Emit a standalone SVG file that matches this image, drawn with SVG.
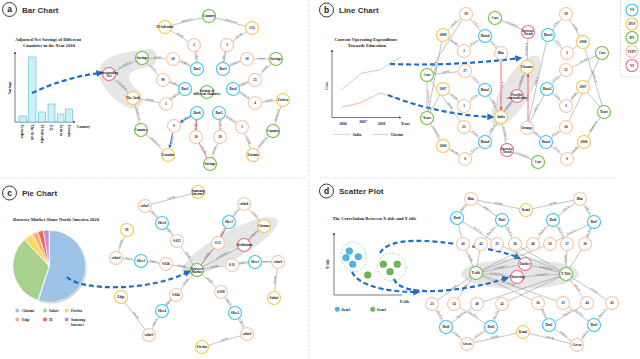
<svg xmlns="http://www.w3.org/2000/svg" width="640" height="359" viewBox="0 0 640 359">
<style>
.n circle{fill:#fff;stroke-width:1.1}
.vs circle{stroke:#3cc4f4}
.dvs circle{stroke:#fbc54f}
.dv circle{stroke:#6fc144}
.vf circle{stroke:#f8c6a6}
.vi circle{stroke:#ef6b94}
.n text{font-family:"Liberation Serif",serif;font-weight:bold;font-size:3.4px;text-anchor:middle;fill:#111}
.e{fill:none;stroke:#9a9a9a;stroke-width:0.6}
.er{fill:none;stroke:#e0505a;stroke-width:0.8}
.eb{fill:none;stroke:#1f6cc0;stroke-width:0.9}
.el{font-family:"Liberation Serif",serif;font-size:2.8px;fill:#333;text-anchor:middle}
.big{fill:none;stroke:#1f6ec2;stroke-width:2.2;stroke-dasharray:5 3}
.blob{fill:#e6e6e6}
.sep{stroke:#bdbdbd;stroke-width:0.8;stroke-dasharray:1 1.5;fill:none}
.pt{font-family:"Liberation Sans",Arial,sans-serif;font-weight:bold;font-size:8px;fill:#333}
.pl{font-family:"Liberation Sans",Arial,sans-serif;font-weight:bold;font-size:8.5px;fill:#222;text-anchor:middle}
.pc{fill:#fff;stroke:#222;stroke-width:0.9}
.ct{font-family:"Liberation Serif",serif;font-weight:bold;font-size:4.6px;text-anchor:middle;fill:#222}
.ax{stroke:#444;stroke-width:0.7;fill:none}
.tk{font-family:"Liberation Serif",serif;font-weight:bold;font-size:3.8px;fill:#222}
.bar{fill:#c9f1f9;stroke:#5fb8cc;stroke-width:0.6}
.lg{font-family:"Liberation Serif",serif;font-weight:bold;font-size:3.6px;fill:#222}
</style>
<defs>
<marker id="mb" viewBox="0 0 6 6" refX="4" refY="3" markerWidth="3.2" markerHeight="3.2" orient="auto-start-reverse"><path d="M0,0 L6,3 L0,6 Z" fill="#1f6ec2"/></marker>
<marker id="ms" viewBox="0 0 6 6" refX="5" refY="3" markerWidth="4" markerHeight="4" orient="auto-start-reverse"><path d="M0,0 L6,3 L0,6 Z" fill="#1f6cc0"/></marker>
<marker id="mr" viewBox="0 0 6 6" refX="5" refY="3" markerWidth="4" markerHeight="4" orient="auto-start-reverse"><path d="M0,0 L6,3 L0,6 Z" fill="#e0505a"/></marker>
<marker id="mx" viewBox="0 0 6 6" refX="5" refY="3" markerWidth="4" markerHeight="4" orient="auto"><path d="M0,0 L6,3 L0,6 Z" fill="#444"/></marker>
</defs>
<rect width="640" height="359" fill="#fff"/>

<g id="separators">
<path class="sep" d="M0,178 H307 M320,178 H617 M309,0 V359 M620.5,0 V77 H640"/>
</g>

<!-- Panel titles -->
<g id="title-a"><circle class="pc" cx="9.5" cy="9.5" r="7"/><text class="pl" x="9.5" y="12.3">a</text><text class="pt" x="22" y="12.5">Bar Chart</text></g>
<g id="title-b"><circle class="pc" cx="326.5" cy="10" r="7"/><text class="pl" x="326.5" y="12.8">b</text><text class="pt" x="339" y="13">Line Chart</text></g>
<g id="title-c"><circle class="pc" cx="9.5" cy="193" r="7"/><text class="pl" x="9.5" y="195.8">c</text><text class="pt" x="22" y="196">Pie Chart</text></g>
<g id="title-d"><circle class="pc" cx="326.5" cy="191" r="7"/><text class="pl" x="326.5" y="193.8">d</text><text class="pt" x="339" y="194">Scatter Plot</text></g>

<!-- Legend -->
<g id="legend">
<g id="lg-vs" class="n vs" transform="translate(632,10)"><circle r="6"/><text y="1.2">VS</text></g>
<g id="lg-dvs" class="n dvs" transform="translate(632,24)"><circle r="6"/><text y="1.2">DVS</text></g>
<g id="lg-dv" class="n dv" transform="translate(632,37.5)"><circle r="6"/><text y="1.2">DV</text></g>
<g id="lg-vfpv" class="n vf" transform="translate(632,51.5)"><circle r="6"/><text y="1.2">VFPV</text></g>
<g id="lg-vi" class="n vi" transform="translate(632,65.5)"><circle r="6"/><text y="1.2">VI</text></g>
</g>

<!-- ============ PANEL A ============ -->
<g id="a-chart">
<text class="ct" x="48" y="40.5">Adjusted Net Savings of Different</text>
<text class="ct" x="49" y="46.5">Countries in the Year 2010</text>
<path class="ax" d="M15,122 V52" marker-end="url(#mx)"/>
<path class="ax" d="M15,122 H75" marker-end="url(#mx)"/>
<text class="tk" transform="translate(10.5,88) rotate(-90)" text-anchor="middle">Savings</text>
<text class="tk" x="76.5" y="128">Country</text>
<rect class="bar" x="19" y="116" width="7.5" height="6"/>
<rect class="bar" x="28.5" y="57" width="7.5" height="65"/>
<rect class="bar" x="38.5" y="112" width="7" height="10"/>
<rect class="bar" x="48" y="104" width="7" height="18"/>
<rect class="bar" x="57.5" y="114" width="6.5" height="8"/>
<rect class="bar" x="65.5" y="109" width="7" height="13"/>
<g class="tk" font-size="3.6">
<text transform="translate(21.2,124.5) rotate(90)">Ecuador</text>
<text transform="translate(31,124.5) rotate(90)">The Arab</text>
<text transform="translate(40.8,124.5) rotate(90)">El Salvador</text>
<text transform="translate(50.2,124.5) rotate(90)">GQ</text>
<text transform="translate(59.5,124.5) rotate(90)">Eritrea</text>
<text transform="translate(68,124.5) rotate(90)">Estonia</text>
</g>
</g>

<path id="a-blob" class="blob" d="M100,71 C99,61 112,55 128,52 L149,49 C159,49 160,63 151,66 L136,70 C126,74 127,82 138,90 C147,98 141,111 130,108 C117,104 102,88 100,78 Z"/>

<g id="a-connectors">
<path class="big" d="M32,93 C55,82 80,75 101,73" marker-end="url(#mb)"/>
<path id="ea1" class="e" d="M109,74 L142,58"/>
<path id="ea2" class="e" d="M109,74 L133,98"/>
<path id="ea3" class="e" d="M142,58 L173,59"/>
<path id="ea4" class="e" d="M142,58 L163,80"/>
<path id="ea5" class="e" d="M133,98 L166,104"/>
<path id="ea6" class="e" d="M133,98 L141,130"/>
<path id="ea7" class="e" d="M141,130 L168,155"/>
<path id="ea8" class="e" d="M173,59 L197,69"/>
<path id="ea9" class="e" d="M194,45 L197,69"/>
<path id="ea10" class="e" d="M165,27 L194,45"/>
<path id="ea11" class="e" d="M165,27 L209,16"/>
<path id="ea12" class="e" d="M209,16 L252,28"/>
<path id="ea13" class="e" d="M227,45 L252,28"/>
<path id="ea14" class="e" d="M223,69 L227,45"/>
<path id="ea15" class="e" d="M223,69 L247,59"/>
<path id="ea16" class="e" d="M247,59 L276,59"/>
<path id="ea17" class="e" d="M255,80 L276,59"/>
<path id="ea18" class="e" d="M233,89 L255,80"/>
<path id="ea19" class="e" d="M233,89 L255,103"/>
<path id="ea20" class="e" d="M255,103 L283,100"/>
<path id="ea21" class="e" d="M273,131 L283,100"/>
<path id="ea22" class="e" d="M253,155 L273,131"/>
<path id="ea23" class="e" d="M242,127 L253,155"/>
<path id="ea24" class="e" d="M219,113 L242,127"/>
<path id="ea25" class="e" d="M219,113 L220,137"/>
<path id="ea26" class="e" d="M210,164 L220,137"/>
<path id="ea27" class="er" d="M196,137 L210,164"/>
<path id="ea28" class="er" d="M196,137 L197,113"/>
<path id="ea29" class="eb" d="M180.5,122.3 L191.3,116.2" marker-start="url(#ms)"/>
<path id="ea30" class="eb" d="M172.7,132.4 L169.5,147.7" marker-end="url(#ms)"/>
<path id="ea31" class="e" d="M163,80 L185,89"/>
<path id="ea32" class="e" d="M166,104 L185,89"/>
<text class="el" dy="-0.5"><textPath href="#ea1" startOffset="50%">is related to</textPath></text>
<text class="el" dy="-0.5"><textPath href="#ea2" startOffset="50%">is related to</textPath></text>
<text class="el" dy="-0.5"><textPath href="#ea3" startOffset="50%">encode</textPath></text>
<text class="el" dy="-0.5"><textPath href="#ea4" startOffset="50%">encode</textPath></text>
<text class="el" dy="-0.5"><textPath href="#ea5" startOffset="50%">encode</textPath></text>
<text class="el" dy="-0.5"><textPath href="#ea6" startOffset="50%">instance of</textPath></text>
<text class="el" dy="-0.5"><textPath href="#ea7" startOffset="50%">instance of</textPath></text>
<text class="el" dy="-0.5"><textPath href="#ea8" startOffset="50%">height is</textPath></text>
<text class="el" dy="-0.5"><textPath href="#ea9" startOffset="50%">P-index is</textPath></text>
<text class="el" dy="-0.5"><textPath href="#ea10" startOffset="50%">encode</textPath></text>
<text class="el" dy="-0.5"><textPath href="#ea11" startOffset="50%">instance of</textPath></text>
<text class="el" dy="-0.5"><textPath href="#ea12" startOffset="50%">instance of</textPath></text>
<text class="el" dy="-0.5"><textPath href="#ea13" startOffset="50%">encode</textPath></text>
<text class="el" dy="-0.5"><textPath href="#ea14" startOffset="50%">P-index is</textPath></text>
<text class="el" dy="-0.5"><textPath href="#ea15" startOffset="50%">height is</textPath></text>
<text class="el" dy="-0.5"><textPath href="#ea16" startOffset="50%">encode</textPath></text>
<text class="el" dy="-0.5"><textPath href="#ea17" startOffset="50%">encode</textPath></text>
<text class="el" dy="-0.5"><textPath href="#ea18" startOffset="50%">height is</textPath></text>
<text class="el" dy="-0.5"><textPath href="#ea19" startOffset="50%">P-index is</textPath></text>
<text class="el" dy="-0.5"><textPath href="#ea20" startOffset="50%">encode</textPath></text>
<text class="el" dy="-0.5"><textPath href="#ea21" startOffset="50%">instance of</textPath></text>
<text class="el" dy="-0.5"><textPath href="#ea22" startOffset="50%">instance of</textPath></text>
<text class="el" dy="-0.5"><textPath href="#ea23" startOffset="50%">encode</textPath></text>
<text class="el" dy="-0.5"><textPath href="#ea24" startOffset="50%">P-index is</textPath></text>
<text class="el" dy="-0.5"><textPath href="#ea25" startOffset="50%">height is</textPath></text>
<text class="el" dy="-0.5"><textPath href="#ea26" startOffset="50%">encode</textPath></text>
<text class="el" dy="-0.5"><textPath href="#ea27" startOffset="50%">encode</textPath></text>
<text class="el" dy="-0.5"><textPath href="#ea28" startOffset="50%">height is</textPath></text>
<text class="el" dy="-0.5"><textPath href="#ea29" startOffset="50%">P-index is</textPath></text>
<text class="el" dy="-0.5"><textPath href="#ea30" startOffset="50%">encode</textPath></text>
<text class="el" dy="-0.5"><textPath href="#ea31" startOffset="50%">height is</textPath></text>
<text class="el" dy="-0.5"><textPath href="#ea32" startOffset="50%">P-index is</textPath></text>
</g>

<g id="a-nodes">
<g id="a-outstanding" class="n vi" transform="translate(109,74)"><circle r="6.5"/><text><tspan x="0" y="-0.4">Outstanding</tspan><tspan x="0" y="3.2">Net</tspan></text></g>
<g id="a-savings1" class="n dv" transform="translate(142,58)"><circle r="6.5"/><text y="1.2">Savings</text></g>
<g id="a-thearab" class="n dvs" transform="translate(133,98)"><circle r="6.5"/><text y="1.2">The Arab</text></g>
<g id="a-country1" class="n dv" transform="translate(141,130)"><circle r="6.5"/><text y="1.2">Country</text></g>
<g id="a-v20" class="n vf" transform="translate(173,59)"><circle r="6.5"/><text y="1.2">20</text></g>
<g id="a-v90" class="n vf" transform="translate(163,80)"><circle r="6.5"/><text y="1.2">90</text></g>
<g id="a-v1" class="n vf" transform="translate(166,104)"><circle r="6.5"/><text y="1.2">1</text></g>
<g id="a-bar2" class="n vs" transform="translate(197,69)"><circle r="6.5"/><text y="1.2">Bar2</text></g>
<g id="a-bar1" class="n vs" transform="translate(185,89)"><circle r="6.5"/><text y="1.2">Bar1</text></g>
<g id="a-v2" class="n vf" transform="translate(194,45)"><circle r="6.5"/><text y="1.2">2</text></g>
<g id="a-elsalvador" class="n dvs" transform="translate(165,27)"><circle r="6.5"/><text y="1.2">El Salvador</text></g>
<g id="a-country2" class="n dv" transform="translate(209,16)"><circle r="6.5"/><text y="1.2">Country</text></g>
<g id="a-gq" class="n dvs" transform="translate(252,28)"><circle r="6.5"/><text y="1.2">GQ</text></g>
<g id="a-v3" class="n vf" transform="translate(227,45)"><circle r="6.5"/><text y="1.2">3</text></g>
<g id="a-bar3" class="n vs" transform="translate(223,69)"><circle r="6.5"/><text y="1.2">Bar3</text></g>
<g id="a-v30" class="n vf" transform="translate(247,59)"><circle r="6.5"/><text y="1.2">30</text></g>
<g id="a-savings2" class="n dv" transform="translate(276,59)"><circle r="6.5"/><text y="1.2">Savings</text></g>
<g id="a-v25" class="n vf" transform="translate(255,80)"><circle r="6.5"/><text y="1.2">25</text></g>
<g id="a-bar4" class="n vs" transform="translate(233,89)"><circle r="6.5"/><text y="1.2">Bar4</text></g>
<g id="a-savingsdiff" class="n dv" transform="translate(207,92)"><circle r="6.5"/><text><tspan x="0" y="-0.4">Savings of</tspan><tspan x="0" y="3.2">different countries</tspan></text></g>
<g id="a-v4" class="n vf" transform="translate(255,103)"><circle r="6.5"/><text y="1.2">4</text></g>
<g id="a-eritrea" class="n dvs" transform="translate(283,100)"><circle r="6.5"/><text y="1.2">Eritrea</text></g>
<g id="a-country3" class="n dv" transform="translate(273,131)"><circle r="6.5"/><text y="1.2">Country</text></g>
<g id="a-estonia" class="n dvs" transform="translate(253,155)"><circle r="6.5"/><text y="1.2">Estonia</text></g>
<g id="a-v5" class="n vf" transform="translate(242,127)"><circle r="6.5"/><text y="1.2">5</text></g>
<g id="a-bar5" class="n vs" transform="translate(219,113)"><circle r="6.5"/><text y="1.2">Bar5</text></g>
<g id="a-v29" class="n vf" transform="translate(220,137)"><circle r="6.5"/><text y="1.2">29</text></g>
<g id="a-savings3" class="n dv" transform="translate(210,164)"><circle r="6.5"/><text y="1.2">Savings</text></g>
<g id="a-v10" class="n vf" transform="translate(196,137)"><circle r="6.5"/><text y="1.2">10</text></g>
<g id="a-bar6" class="n vs" transform="translate(197,113)"><circle r="6.5"/><text y="1.2">Bar6</text></g>
<g id="a-v0" class="n vf" transform="translate(174,126)"><circle r="6.5"/><text y="1.2">0</text></g>
<g id="a-ecuador" class="n dvs" transform="translate(168,155)"><circle r="6.5"/><text y="1.2">Ecuador</text></g>
</g>

<!-- ============ PANEL B ============ -->
<g id="b-chart">
<text class="ct" x="366" y="40.5" font-size="4.8">Current Operating Expenditure</text>
<text class="ct" x="367" y="46.5" font-size="4.8">Towards Education</text>
<path class="ax" d="M332,117.5 V50" marker-end="url(#mx)"/>
<path class="ax" d="M332,117.5 H401" marker-end="url(#mx)"/>
<text class="tk" transform="translate(327.5,86) rotate(-90)" text-anchor="middle">Cost</text>
<text class="tk" x="343" y="124.5" text-anchor="middle" font-size="3.4">2006</text>
<text class="tk" x="363" y="122.5" text-anchor="middle" font-size="3.4">2007</text>
<text class="tk" x="381.5" y="124.5" text-anchor="middle" font-size="3.4">2008</text>
<text class="tk" x="401" y="125">Years</text>
<polyline points="341,90 362,73 380,70 390,63 401,57" fill="none" stroke="#a8cdea" stroke-width="0.9"/>
<polyline points="342,107 360,103 380,93 400,99" fill="none" stroke="#f2b48a" stroke-width="0.9"/>
<line x1="333" y1="134.3" x2="350" y2="134.3" stroke="#a8cdea" stroke-width="0.8"/>
<text class="lg" x="353" y="135.5" font-size="3.2">India</text>
<line x1="373" y1="134.3" x2="388" y2="134.3" stroke="#f2b48a" stroke-width="0.8"/>
<text class="lg" x="391" y="135.5" font-size="3.2">Ukraine</text>
</g>

<ellipse id="b-blob" class="blob" cx="516" cy="91" rx="14" ry="41" transform="rotate(32 516 91)"/>

<g id="b-connectors">
<path class="big" d="M390,64 C440,66 490,62 520,58" marker-end="url(#mb)"/>
<path class="big" d="M388,95 C420,108 460,116 492,117" marker-end="url(#mb)"/>
<path id="eb1" class="e" d="M443,35 L466,14"/>
<path id="eb2" class="e" d="M443,35 L464,51"/>
<path id="eb3" class="e" d="M466,14 L485,36"/>
<path id="eb4" class="e" d="M464,51 L485,36"/>
<path id="eb5" class="e" d="M485,36 L501,53"/>
<path id="eb6" class="e" d="M495,18 L528,32"/>
<path id="eb7" class="e" d="M527,67 L528,32"/>
<path id="eb8" class="e" d="M517,96 L527,67"/>
<path id="eb9" class="e" d="M501,117 L517,96"/>
<path id="eb10" class="e" d="M501,117 L507,150"/>
<path id="eb11" class="e" d="M507,150 L538,162"/>
<path id="eb12" class="er" d="M501,59.5 L501,110" marker-end="url(#mr)"/>
<path id="eb13" class="er" d="M528,121.5 L528,74" marker-end="url(#mr)"/>
<path id="eb14" class="e" d="M427,75 L465,71"/>
<path id="eb15" class="e" d="M427,75 L466,14"/>
<path id="eb16" class="e" d="M427,75 L427,118"/>
<path id="eb17" class="e" d="M427,118 L443,35"/>
<path id="eb18" class="e" d="M427,118 L443,89"/>
<path id="eb19" class="e" d="M427,118 L443,146"/>
<path id="eb20" class="e" d="M443,89 L464,106"/>
<path id="eb21" class="e" d="M465,71 L485,90"/>
<path id="eb22" class="e" d="M464,106 L485,90"/>
<path id="eb23" class="e" d="M485,90 L501,117"/>
<path id="eb24" class="e" d="M427,75 L464,127"/>
<path id="eb25" class="e" d="M443,146 L465,159"/>
<path id="eb26" class="e" d="M464,127 L485,142"/>
<path id="eb27" class="e" d="M465,159 L485,142"/>
<path id="eb28" class="e" d="M485,142 L501,117"/>
<path id="eb29" class="e" d="M527,128 L546,142"/>
<path id="eb30" class="e" d="M527,128 L547,89"/>
<path id="eb31" class="e" d="M527,128 L548,35"/>
<path id="eb32" class="e" d="M548,35 L566,14"/>
<path id="eb33" class="e" d="M548,35 L567,53"/>
<path id="eb34" class="e" d="M566,14 L583,42"/>
<path id="eb35" class="e" d="M567,53 L583,42"/>
<path id="eb36" class="e" d="M566,70 L602,53"/>
<path id="eb37" class="e" d="M547,89 L566,70"/>
<path id="eb38" class="e" d="M547,89 L566,106"/>
<path id="eb39" class="e" d="M566,106 L583,87"/>
<path id="eb40" class="e" d="M583,42 L604,112"/>
<path id="eb41" class="e" d="M583,87 L604,112"/>
<path id="eb42" class="e" d="M584,142 L604,112"/>
<path id="eb43" class="e" d="M546,142 L566,127"/>
<path id="eb44" class="e" d="M546,142 L567,159"/>
<path id="eb45" class="e" d="M567,159 L584,142"/>
<path id="eb46" class="e" d="M566,127 L602,53"/>
<text class="el" dy="-0.5"><textPath href="#eb1" startOffset="50%">encode</textPath></text>
<text class="el" dy="-0.5"><textPath href="#eb2" startOffset="50%">encode</textPath></text>
<text class="el" dy="-0.5"><textPath href="#eb3" startOffset="50%">P-X is</textPath></text>
<text class="el" dy="-0.5"><textPath href="#eb4" startOffset="50%">P-Y is</textPath></text>
<text class="el" dy="-0.5"><textPath href="#eb5" startOffset="50%">color is</textPath></text>
<text class="el" dy="-0.5"><textPath href="#eb6" startOffset="50%">is related to</textPath></text>
<text class="el" dy="-0.5"><textPath href="#eb7" startOffset="50%">is related to</textPath></text>
<text class="el" dy="-0.5"><textPath href="#eb8" startOffset="50%">is related to</textPath></text>
<text class="el" dy="-0.5"><textPath href="#eb9" startOffset="50%">is related to</textPath></text>
<text class="el" dy="-0.5"><textPath href="#eb10" startOffset="50%">is related to</textPath></text>
<text class="el" dy="-0.5"><textPath href="#eb11" startOffset="50%">is related to</textPath></text>
<text class="el" dy="-0.5"><textPath href="#eb12" startOffset="50%">higher</textPath></text>
<text class="el" dy="-0.5"><textPath href="#eb13" startOffset="50%">lower</textPath></text>
<text class="el" dy="-0.5"><textPath href="#eb14" startOffset="50%">encode</textPath></text>
<text class="el" dy="-0.5"><textPath href="#eb16" startOffset="50%">instance of</textPath></text>
<text class="el" dy="-0.5"><textPath href="#eb17" startOffset="60%">instance of</textPath></text>
<text class="el" dy="-0.5"><textPath href="#eb19" startOffset="50%">instance of</textPath></text>
<text class="el" dy="-0.5"><textPath href="#eb20" startOffset="50%">encode</textPath></text>
<text class="el" dy="-0.5"><textPath href="#eb21" startOffset="50%">P-X is</textPath></text>
<text class="el" dy="-0.5"><textPath href="#eb22" startOffset="50%">P-Y is</textPath></text>
<text class="el" dy="-0.5"><textPath href="#eb23" startOffset="50%">color is</textPath></text>
<text class="el" dy="-0.5"><textPath href="#eb24" startOffset="60%">encode</textPath></text>
<text class="el" dy="-0.5"><textPath href="#eb25" startOffset="50%">encode</textPath></text>
<text class="el" dy="-0.5"><textPath href="#eb26" startOffset="50%">P-X is</textPath></text>
<text class="el" dy="-0.5"><textPath href="#eb27" startOffset="50%">P-Y is</textPath></text>
<text class="el" dy="-0.5"><textPath href="#eb28" startOffset="50%">color is</textPath></text>
<text class="el" dy="-0.5"><textPath href="#eb29" startOffset="50%">color is</textPath></text>
<text class="el" dy="-0.5"><textPath href="#eb30" startOffset="50%">color is</textPath></text>
<text class="el" dy="-0.5"><textPath href="#eb31" startOffset="50%">color is</textPath></text>
<text class="el" dy="-0.5"><textPath href="#eb32" startOffset="50%">P-X is</textPath></text>
<text class="el" dy="-0.5"><textPath href="#eb33" startOffset="50%">P-Y is</textPath></text>
<text class="el" dy="-0.5"><textPath href="#eb34" startOffset="50%">encode</textPath></text>
<text class="el" dy="-0.5"><textPath href="#eb36" startOffset="50%">encode</textPath></text>
<text class="el" dy="-0.5"><textPath href="#eb37" startOffset="50%">P-X is</textPath></text>
<text class="el" dy="-0.5"><textPath href="#eb38" startOffset="50%">P-Y is</textPath></text>
<text class="el" dy="-0.5"><textPath href="#eb39" startOffset="50%">encode</textPath></text>
<text class="el" dy="-0.5"><textPath href="#eb40" startOffset="50%">instance of</textPath></text>
<text class="el" dy="-0.5"><textPath href="#eb42" startOffset="50%">instance of</textPath></text>
<text class="el" dy="-0.5"><textPath href="#eb43" startOffset="50%">P-X is</textPath></text>
<text class="el" dy="-0.5"><textPath href="#eb44" startOffset="50%">P-Y is</textPath></text>
<text class="el" dy="-0.5"><textPath href="#eb45" startOffset="50%">encode</textPath></text>
</g>

<g id="b-nodes">
<g id="b-n19a" class="n vf" transform="translate(466,14)"><circle r="6.5"/><text y="1.2">19</text></g>
<g id="b-n2008a" class="n dvs" transform="translate(443,35)"><circle r="6.5"/><text y="1.2">2008</text></g>
<g id="b-data4" class="n vs" transform="translate(485,36)"><circle r="6.5"/><text y="1.2">Data4</text></g>
<g id="b-n2a" class="n vf" transform="translate(464,51)"><circle r="6.5"/><text y="1.2">2</text></g>
<g id="b-cost1" class="n dv" transform="translate(495,18)"><circle r="6.5"/><text y="1.2">Cost</text></g>
<g id="b-blue" class="n vf" transform="translate(501,53)"><circle r="6.5"/><text y="1.2">Blue</text></g>
<g id="b-cost2" class="n dv" transform="translate(427,75)"><circle r="6.5"/><text y="1.2">Cost</text></g>
<g id="b-n17" class="n vf" transform="translate(465,71)"><circle r="6.5"/><text y="1.2">17</text></g>
<g id="b-n2007a" class="n dvs" transform="translate(443,89)"><circle r="6.5"/><text y="1.2">2007</text></g>
<g id="b-data5" class="n vs" transform="translate(485,90)"><circle r="6.5"/><text y="1.2">Data5</text></g>
<g id="b-n1a" class="n vf" transform="translate(464,106)"><circle r="6.5"/><text y="1.2">1</text></g>
<g id="b-india" class="n dvs" transform="translate(501,117)"><circle r="6.5"/><text y="1.2">India</text></g>
<g id="b-years1" class="n dv" transform="translate(427,118)"><circle r="6.5"/><text y="1.2">Years</text></g>
<g id="b-n21a" class="n vf" transform="translate(464,127)"><circle r="6.5"/><text y="1.2">21</text></g>
<g id="b-n2006a" class="n dvs" transform="translate(443,146)"><circle r="6.5"/><text y="1.2">2006</text></g>
<g id="b-data6" class="n vs" transform="translate(485,142)"><circle r="6.5"/><text y="1.2">Data6</text></g>
<g id="b-n0a" class="n vf" transform="translate(465,159)"><circle r="6.5"/><text y="1.2">0</text></g>
<g id="b-inc2" class="n vi" transform="translate(507,150)"><circle r="6.5"/><text><tspan x="0" y="-0.4">Increase</tspan><tspan x="0" y="3.2">Trend</tspan></text></g>
<g id="b-inc1" class="n vi" transform="translate(528,32)"><circle r="6.5"/><text><tspan x="0" y="-0.4">Increase</tspan><tspan x="0" y="3.2">Trend</tspan></text></g>
<g id="b-ukraine" class="n dvs" transform="translate(527,67)"><circle r="6.5"/><text y="1.2">Ukraine</text></g>
<g id="b-possible" class="n vi" transform="translate(517,96)"><circle r="6.5"/><text><tspan x="0" y="-0.4">Possible</tspan><tspan x="0" y="3.2">contradiction</tspan></text></g>
<g id="b-orange" class="n vf" transform="translate(527,128)"><circle r="6.5"/><text y="1.2">Orange</text></g>
<g id="b-cost3" class="n dv" transform="translate(538,162)"><circle r="6.5"/><text y="1.2">Cost</text></g>
<g id="b-data3" class="n vs" transform="translate(548,35)"><circle r="6.5"/><text y="1.2">Data3</text></g>
<g id="b-n19b" class="n vf" transform="translate(566,14)"><circle r="6.5"/><text y="1.2">19</text></g>
<g id="b-n2008b" class="n dvs" transform="translate(583,42)"><circle r="6.5"/><text y="1.2">2008</text></g>
<g id="b-n2b" class="n vf" transform="translate(567,53)"><circle r="6.5"/><text y="1.2">2</text></g>
<g id="b-cost4" class="n dv" transform="translate(602,53)"><circle r="6.5"/><text y="1.2">Cost</text></g>
<g id="b-n21b" class="n vf" transform="translate(566,70)"><circle r="6.5"/><text y="1.2">21</text></g>
<g id="b-data2" class="n vs" transform="translate(547,89)"><circle r="6.5"/><text y="1.2">Data2</text></g>
<g id="b-n2007b" class="n dvs" transform="translate(583,87)"><circle r="6.5"/><text y="1.2">2007</text></g>
<g id="b-n1b" class="n vf" transform="translate(566,106)"><circle r="6.5"/><text y="1.2">1</text></g>
<g id="b-years2" class="n dv" transform="translate(604,112)"><circle r="6.5"/><text y="1.2">Years</text></g>
<g id="b-n16" class="n vf" transform="translate(566,127)"><circle r="6.5"/><text y="1.2">16</text></g>
<g id="b-data1" class="n vs" transform="translate(546,142)"><circle r="6.5"/><text y="1.2">Data1</text></g>
<g id="b-n2006b" class="n dvs" transform="translate(584,142)"><circle r="6.5"/><text y="1.2">2006</text></g>
<g id="b-n0b" class="n vf" transform="translate(567,159)"><circle r="6.5"/><text y="1.2">0</text></g>
</g>

<!-- ============ PANEL C ============ -->
<g id="c-chart">
<text class="ct" x="56" y="220.5" font-size="4.8">Browser Market Share North America 2020</text>
<path d="M50.5,267.5 L50.5,231.5 A36,36 0 1 1 39.4,301.7 Z" fill="#cfcfcf"/>
<path d="M49.5,266.3 L49.5,230.3 A36,36 0 1 1 38.4,300.5 Z" fill="#9dc3e6" stroke="#fff" stroke-width="0.6"/>
<path d="M49,266 L37.88,300.24 A36,36 0 0 1 24.45,239.67 Z" fill="#a9d18e" stroke="#fff" stroke-width="0.6"/>
<path d="M49,266 L24.45,239.67 A36,36 0 0 1 32.1,234.21 Z" fill="#ffd966" stroke="#fff" stroke-width="0.6"/>
<path d="M49,266 L32.1,234.21 A36,36 0 0 1 37.88,231.76 Z" fill="#f4b183" stroke="#fff" stroke-width="0.6"/>
<path d="M49,266 L37.88,231.76 A36,36 0 0 1 43.37,230.44 Z" fill="#ea6a5a" stroke="#fff" stroke-width="0.6"/>
<path d="M49,266 L43.37,230.44 A36,36 0 0 1 49,230 Z" fill="#c98ad8" stroke="#fff" stroke-width="0.6"/>
<circle cx="17.3" cy="310.5" r="2" fill="#9dc3e6"/><text class="lg" x="22" y="312">Chrome</text>
<circle cx="45" cy="310.5" r="2" fill="#a9d18e"/><text class="lg" x="49" y="312">Safari</text>
<circle cx="66.7" cy="310.5" r="2" fill="#ffd966"/><text class="lg" x="71" y="312">Firefox</text>
<circle cx="17.3" cy="319.5" r="2" fill="#f4b183"/><text class="lg" x="22" y="321">Edge</text>
<circle cx="45" cy="319.5" r="2" fill="#ea6a5a"/><text class="lg" x="49" y="321">IE</text>
<circle cx="66.7" cy="319.5" r="2" fill="#c98ad8"/><text class="lg" x="71" y="321">Samsung</text><text class="lg" x="71" y="325.5">Internet</text>
</g>

<ellipse id="c-blob" class="blob" cx="230" cy="246" rx="54" ry="14" transform="rotate(-29 230 246)"/>

<g id="c-connectors">
<path class="big" d="M67,277 C80,291 150,292 189,271.5" marker-end="url(#mb)"/>
<path id="ec1" class="e" d="M145,206 L198,192"/>
<path id="ec2" class="e" d="M145,206 L162,223"/>
<path id="ec3" class="e" d="M162,223 L177,241"/>
<path id="ec4" class="e" d="M177,241 L197,270"/>
<path id="ec5" class="e" d="M116,258 L127,230"/>
<path id="ec6" class="e" d="M116,258 L141,261"/>
<path id="ec7" class="e" d="M141,261 L166,264"/>
<path id="ec8" class="e" d="M166,264 L197,270"/>
<path id="ec9" class="e" d="M121,297 L149,335"/>
<path id="ec10" class="e" d="M149,335 L162,311"/>
<path id="ec11" class="e" d="M162,311 L176,295"/>
<path id="ec12" class="e" d="M176,295 L197,270"/>
<path id="ec13" class="er" d="M197,270 L218,243"/>
<path id="ec14" class="er" d="M218,243 L229,222"/>
<path id="ec15" class="e" d="M229,222 L244,204"/>
<path id="ec16" class="e" d="M244,204 L264,226"/>
<path id="ec17" class="e" d="M244,245 L264,226"/>
<path id="ec18" class="e" d="M197,270 L244,245"/>
<path id="ec19" class="e" d="M197,270 L232,265"/>
<path id="ec20" class="e" d="M232,265 L255,262"/>
<path id="ec21" class="e" d="M255,262 L278,262"/>
<path id="ec22" class="e" d="M274,298 L278,262"/>
<path id="ec23" class="e" d="M197,270 L221,292"/>
<path id="ec24" class="e" d="M221,292 L235,313"/>
<path id="ec25" class="e" d="M235,313 L247,334"/>
<path id="ec26" class="e" d="M202,347 L247,334"/>
<text class="el" dy="-0.5"><textPath href="#ec1" startOffset="50%">encode</textPath></text>
<text class="el" dy="-0.5"><textPath href="#ec2" startOffset="50%">color is</textPath></text>
<text class="el" dy="-0.5"><textPath href="#ec3" startOffset="50%">angle is</textPath></text>
<text class="el" dy="-0.5"><textPath href="#ec4" startOffset="50%">encode</textPath></text>
<text class="el" dy="-0.5"><textPath href="#ec5" startOffset="50%">encode</textPath></text>
<text class="el" dy="-0.5"><textPath href="#ec6" startOffset="50%">color is</textPath></text>
<text class="el" dy="-0.5"><textPath href="#ec7" startOffset="50%">angle is</textPath></text>
<text class="el" dy="-0.5"><textPath href="#ec8" startOffset="50%">encode</textPath></text>
<text class="el" dy="-0.5"><textPath href="#ec9" startOffset="50%">encode</textPath></text>
<text class="el" dy="-0.5"><textPath href="#ec10" startOffset="50%">color is</textPath></text>
<text class="el" dy="-0.5"><textPath href="#ec11" startOffset="50%">angle is</textPath></text>
<text class="el" dy="-0.5"><textPath href="#ec12" startOffset="50%">encode</textPath></text>
<text class="el" dy="-0.5"><textPath href="#ec13" startOffset="50%">encode</textPath></text>
<text class="el" dy="-0.5"><textPath href="#ec14" startOffset="50%">angle is</textPath></text>
<text class="el" dy="-0.5"><textPath href="#ec15" startOffset="50%">color is</textPath></text>
<text class="el" dy="-0.5"><textPath href="#ec16" startOffset="50%">encode</textPath></text>
<text class="el" dy="-0.5"><textPath href="#ec17" startOffset="50%">is related to</textPath></text>
<text class="el" dy="-0.5"><textPath href="#ec18" startOffset="55%">is related to</textPath></text>
<text class="el" dy="-0.5"><textPath href="#ec19" startOffset="50%">encode</textPath></text>
<text class="el" dy="-0.5"><textPath href="#ec20" startOffset="50%">angle is</textPath></text>
<text class="el" dy="-0.5"><textPath href="#ec21" startOffset="50%">color is</textPath></text>
<text class="el" dy="-0.5"><textPath href="#ec22" startOffset="50%">encode</textPath></text>
<text class="el" dy="-0.5"><textPath href="#ec23" startOffset="50%">encode</textPath></text>
<text class="el" dy="-0.5"><textPath href="#ec24" startOffset="50%">angle is</textPath></text>
<text class="el" dy="-0.5"><textPath href="#ec25" startOffset="50%">color is</textPath></text>
<text class="el" dy="-0.5"><textPath href="#ec26" startOffset="50%">encode</textPath></text>
</g>

<g id="c-nodes">
<g id="c-samsung" class="n dvs" transform="translate(198,192)"><circle r="6.5"/><text><tspan x="0" y="-0.4">Samsung</tspan><tspan x="0" y="3.2">Internet</tspan></text></g>
<g id="c-color5" class="n vf" transform="translate(145,206)"><circle r="6.5"/><text y="1.2">color5</text></g>
<g id="c-slice6" class="n vs" transform="translate(162,223)"><circle r="6.5"/><text y="1.2">Slice6</text></g>
<g id="c-v0025" class="n vf" transform="translate(177,241)"><circle r="6.5"/><text y="1.2">0.025</text></g>
<g id="c-ie" class="n dvs" transform="translate(127,230)"><circle r="6.5"/><text y="1.2">IE</text></g>
<g id="c-color4" class="n vf" transform="translate(116,258)"><circle r="6.5"/><text y="1.2">color4</text></g>
<g id="c-slice3" class="n vs" transform="translate(141,261)"><circle r="6.5"/><text y="1.2">Slice3</text></g>
<g id="c-v0026" class="n vf" transform="translate(166,264)"><circle r="6.5"/><text y="1.2">0.026</text></g>
<g id="c-edge" class="n dvs" transform="translate(121,297)"><circle r="6.5"/><text y="1.2">Edge</text></g>
<g id="c-color3" class="n vf" transform="translate(149,335)"><circle r="6.5"/><text y="1.2">color3</text></g>
<g id="c-slice4" class="n vs" transform="translate(162,311)"><circle r="6.5"/><text y="1.2">Slice4</text></g>
<g id="c-v0044" class="n vf" transform="translate(176,295)"><circle r="6.5"/><text y="1.2">0.044</text></g>
<g id="c-browser" class="n dv" transform="translate(197,270)"><circle r="6.5"/><text><tspan x="0" y="-0.4">Browser</tspan><tspan x="0" y="3.2">Market</tspan></text></g>
<g id="c-v055" class="n vf" transform="translate(218,243)"><circle r="6.5"/><text y="1.2">0.55</text></g>
<g id="c-slice5" class="n vs" transform="translate(229,222)"><circle r="6.5"/><text y="1.2">Slice5</text></g>
<g id="c-color6" class="n vf" transform="translate(244,204)"><circle r="6.5"/><text y="1.2">color6</text></g>
<g id="c-chrome" class="n dvs" transform="translate(264,226)"><circle r="6.5"/><text y="1.2">Chrome</text></g>
<g id="c-attribution" class="n vi" transform="translate(244,245)"><circle r="6.5"/><text y="1.2">Attribution</text></g>
<g id="c-v033" class="n vf" transform="translate(232,265)"><circle r="6.5"/><text y="1.2">0.33</text></g>
<g id="c-slice1" class="n vs" transform="translate(255,262)"><circle r="6.5"/><text y="1.2">Slice1</text></g>
<g id="c-color1" class="n vf" transform="translate(278,262)"><circle r="6.5"/><text y="1.2">color1</text></g>
<g id="c-safari" class="n dvs" transform="translate(274,298)"><circle r="6.5"/><text y="1.2">Safari</text></g>
<g id="c-v0058" class="n vf" transform="translate(221,292)"><circle r="6.5"/><text y="1.2">0.058</text></g>
<g id="c-slice2" class="n vs" transform="translate(235,313)"><circle r="6.5"/><text y="1.2">Slice2</text></g>
<g id="c-color2" class="n vf" transform="translate(247,334)"><circle r="6.5"/><text y="1.2">color2</text></g>
<g id="c-firefox" class="n dvs" transform="translate(202,347)"><circle r="6.5"/><text y="1.2">Firefox</text></g>
</g>

<!-- ============ PANEL D ============ -->
<g id="d-chart">
<text class="ct" x="374.5" y="219.5" font-size="4.6">The Correlation Between X title and Y title</text>
<path class="ax" d="M334,295 V233" marker-end="url(#mx)"/>
<path class="ax" d="M334,295 H402"/>
<text class="tk" transform="translate(328.5,264) rotate(-90)" text-anchor="middle">Y title</text>
<text class="tk" x="399.5" y="302.5">X title</text>
<ellipse cx="353.7" cy="256.7" rx="12.5" ry="15" fill="none" stroke="#8fd3f2" stroke-width="0.8" stroke-dasharray="2 1.5" transform="rotate(-15 353.7 256.7)"/>
<ellipse cx="391.7" cy="267" rx="14.3" ry="14" fill="none" stroke="#9fd88a" stroke-width="0.8" stroke-dasharray="2 1.5"/>
<g fill="#4db8e8" stroke="#2a8fc8" stroke-width="0.5">
<circle cx="349.3" cy="251" r="3.3"/><circle cx="346" cy="257.7" r="3.3"/><circle cx="358.3" cy="256.7" r="3.3"/><circle cx="352.7" cy="264.3" r="3.3"/>
</g>
<g fill="#6dbb47" stroke="#3f8f2a" stroke-width="0.5">
<circle cx="383.3" cy="264.3" r="3.3"/><circle cx="397.3" cy="264.3" r="3.3"/><circle cx="390" cy="271.7" r="3.3"/><circle cx="367.7" cy="275" r="3.3"/>
</g>
<circle cx="337.3" cy="309.3" r="2.2" fill="#4db8e8" stroke="#2a8fc8" stroke-width="0.4"/><text class="lg" x="341.5" y="310.6">Item1</text>
<circle cx="372.7" cy="309.3" r="2.2" fill="#6dbb47" stroke="#3f8f2a" stroke-width="0.4"/><text class="lg" x="377" y="310.6">Item2</text>
</g>

<ellipse id="d-blob" class="blob" cx="520" cy="274" rx="59" ry="15"/>

<g id="d-connectors">
<path class="big" d="M380,253 C390,236 430,240 470,246 C490,249 508,253 519,258" marker-end="url(#mb)"/>
<path class="big" d="M352,272 C358,284 380,292 418,292" marker-end="url(#mb)"/>
<path class="big" d="M394,279 C398,290 420,293 450,290 C478,287 494,282 507,278" marker-end="url(#mb)"/>
<path id="ed1" class="e" d="M471,199 L526,210"/>
<path id="ed2" class="e" d="M526,210 L580,199"/>
<path id="ed3" class="e" d="M457,218 L471,199"/>
<path id="ed4" class="e" d="M471,199 L502,220"/>
<path id="ed5" class="e" d="M553,220 L580,199"/>
<path id="ed6" class="e" d="M580,199 L594,222"/>
<path id="ed7" class="e" d="M457,218 L463,244"/>
<path id="ed8" class="e" d="M457,218 L497,244"/>
<path id="ed9" class="e" d="M481,244 L502,220"/>
<path id="ed10" class="e" d="M502,220 L515,244"/>
<path id="ed11" class="e" d="M533,244 L553,220"/>
<path id="ed12" class="e" d="M553,220 L567,244"/>
<path id="ed13" class="e" d="M550,244 L594,222"/>
<path id="ed14" class="e" d="M585,244 L594,222"/>
<path id="ed15" class="e" d="M463,244 L476,273"/>
<path id="ed16" class="e" d="M476,273 L481,244"/>
<path id="ed17" class="e" d="M476,273 L533,244"/>
<path id="ed18" class="e" d="M476,273 L550,244"/>
<path id="ed19" class="e" d="M497,244 L566,274"/>
<path id="ed20" class="e" d="M515,244 L566,274"/>
<path id="ed21" class="e" d="M566,274 L567,244"/>
<path id="ed22" class="e" d="M566,274 L585,244"/>
<path id="ed23" class="e" d="M476,273 L525,264"/>
<path id="ed24" class="e" d="M525,264 L566,274"/>
<path id="ed25" class="e" d="M476,273 L517,277"/>
<path id="ed26" class="e" d="M517,277 L566,274"/>
<path id="ed27" class="e" d="M432,304 L476,273"/>
<path id="ed28" class="e" d="M454,304 L476,273"/>
<path id="ed29" class="e" d="M476,273 L538,303"/>
<path id="ed30" class="e" d="M476,273 L563,303"/>
<path id="ed31" class="e" d="M477,304 L566,274"/>
<path id="ed32" class="e" d="M502,304 L566,274"/>
<path id="ed33" class="e" d="M566,274 L587,303"/>
<path id="ed34" class="e" d="M566,274 L612,303"/>
<path id="ed35" class="e" d="M432,304 L446,327"/>
<path id="ed36" class="e" d="M446,327 L477,304"/>
<path id="ed37" class="e" d="M454,304 L491,327"/>
<path id="ed38" class="e" d="M491,327 L502,304"/>
<path id="ed39" class="e" d="M538,303 L549,325"/>
<path id="ed40" class="e" d="M549,325 L587,303"/>
<path id="ed41" class="e" d="M563,303 L594,325"/>
<path id="ed42" class="e" d="M594,325 L612,303"/>
<path id="ed43" class="e" d="M446,327 L467,344"/>
<path id="ed44" class="e" d="M467,344 L491,327"/>
<path id="ed45" class="e" d="M549,325 L577,345"/>
<path id="ed46" class="e" d="M577,345 L594,325"/>
<path id="ed47" class="e" d="M467,344 L523,332"/>
<path id="ed48" class="e" d="M523,332 L577,345"/>
<text class="el" dy="-0.5"><textPath href="#ed1" startOffset="50%">encode</textPath></text>
<text class="el" dy="-0.5"><textPath href="#ed2" startOffset="50%">encode</textPath></text>
<text class="el" dy="-0.5"><textPath href="#ed3" startOffset="50%">color is</textPath></text>
<text class="el" dy="-0.5"><textPath href="#ed4" startOffset="50%">color is</textPath></text>
<text class="el" dy="-0.5"><textPath href="#ed5" startOffset="50%">color is</textPath></text>
<text class="el" dy="-0.5"><textPath href="#ed6" startOffset="50%">color is</textPath></text>
<text class="el" dy="-0.5"><textPath href="#ed8" startOffset="50%">Pos-Y is</textPath></text>
<text class="el" dy="-0.5"><textPath href="#ed9" startOffset="50%">Pos-X is</textPath></text>
<text class="el" dy="-0.5"><textPath href="#ed10" startOffset="50%">Pos-Y is</textPath></text>
<text class="el" dy="-0.5"><textPath href="#ed11" startOffset="50%">Pos-X is</textPath></text>
<text class="el" dy="-0.5"><textPath href="#ed12" startOffset="50%">Pos-Y is</textPath></text>
<text class="el" dy="-0.5"><textPath href="#ed13" startOffset="50%">Pos-X is</textPath></text>
<text class="el" dy="-0.5"><textPath href="#ed14" startOffset="50%">Pos-Y is</textPath></text>
<text class="el" dy="-0.5"><textPath href="#ed15" startOffset="50%">encode</textPath></text>
<text class="el" dy="-0.5"><textPath href="#ed21" startOffset="50%">encode</textPath></text>
<text class="el" dy="-0.5"><textPath href="#ed23" startOffset="50%">is related to</textPath></text>
<text class="el" dy="-0.5"><textPath href="#ed24" startOffset="50%">is related to</textPath></text>
<text class="el" dy="-0.5"><textPath href="#ed25" startOffset="50%">is related to</textPath></text>
<text class="el" dy="-0.5"><textPath href="#ed26" startOffset="50%">is related to</textPath></text>
<text class="el" dy="-0.5"><textPath href="#ed27" startOffset="50%">encode</textPath></text>
<text class="el" dy="-0.5"><textPath href="#ed28" startOffset="50%">encode</textPath></text>
<text class="el" dy="-0.5"><textPath href="#ed30" startOffset="40%">encode</textPath></text>
<text class="el" dy="-0.5"><textPath href="#ed33" startOffset="50%">encode</textPath></text>
<text class="el" dy="-0.5"><textPath href="#ed34" startOffset="60%">encode</textPath></text>
<text class="el" dy="-0.5"><textPath href="#ed35" startOffset="50%">Pos-X is</textPath></text>
<text class="el" dy="-0.5"><textPath href="#ed36" startOffset="50%">Pos-Y is</textPath></text>
<text class="el" dy="-0.5"><textPath href="#ed37" startOffset="50%">Pos-X is</textPath></text>
<text class="el" dy="-0.5"><textPath href="#ed38" startOffset="50%">Pos-Y is</textPath></text>
<text class="el" dy="-0.5"><textPath href="#ed39" startOffset="50%">Pos-X is</textPath></text>
<text class="el" dy="-0.5"><textPath href="#ed40" startOffset="50%">Pos-Y is</textPath></text>
<text class="el" dy="-0.5"><textPath href="#ed41" startOffset="50%">Pos-X is</textPath></text>
<text class="el" dy="-0.5"><textPath href="#ed42" startOffset="50%">Pos-Y is</textPath></text>
<text class="el" dy="-0.5"><textPath href="#ed43" startOffset="50%">color is</textPath></text>
<text class="el" dy="-0.5"><textPath href="#ed44" startOffset="50%">color is</textPath></text>
<text class="el" dy="-0.5"><textPath href="#ed45" startOffset="50%">color is</textPath></text>
<text class="el" dy="-0.5"><textPath href="#ed46" startOffset="50%">color is</textPath></text>
<text class="el" dy="-0.5"><textPath href="#ed47" startOffset="50%">encode</textPath></text>
<text class="el" dy="-0.5"><textPath href="#ed48" startOffset="50%">encode</textPath></text>
</g>

<g id="d-nodes">
<g id="d-blue1" class="n vf" transform="translate(471,199)"><circle r="6.5"/><text y="1.2">Blue</text></g>
<g id="d-item1" class="n dvs" transform="translate(526,210)"><circle r="6.5"/><text y="1.2">Item1</text></g>
<g id="d-blue2" class="n vf" transform="translate(580,199)"><circle r="6.5"/><text y="1.2">Blue</text></g>
<g id="d-dot4" class="n vs" transform="translate(457,218)"><circle r="6.5"/><text y="1.2">Dot4</text></g>
<g id="d-dot5" class="n vs" transform="translate(502,220)"><circle r="6.5"/><text y="1.2">Dot5</text></g>
<g id="d-dot6" class="n vs" transform="translate(553,220)"><circle r="6.5"/><text y="1.2">Dot6</text></g>
<g id="d-dot7" class="n vs" transform="translate(594,222)"><circle r="6.5"/><text y="1.2">Dot7</text></g>
<g id="d-t40" class="n vf" transform="translate(463,244)"><circle r="6.5"/><text y="1.2">40</text></g>
<g id="d-t42" class="n vf" transform="translate(481,244)"><circle r="6.5"/><text y="1.2">42</text></g>
<g id="d-t35" class="n vf" transform="translate(497,244)"><circle r="6.5"/><text y="1.2">35</text></g>
<g id="d-t36" class="n vf" transform="translate(515,244)"><circle r="6.5"/><text y="1.2">36</text></g>
<g id="d-t46" class="n vf" transform="translate(533,244)"><circle r="6.5"/><text y="1.2">46</text></g>
<g id="d-t33" class="n vf" transform="translate(550,244)"><circle r="6.5"/><text y="1.2">33</text></g>
<g id="d-t37" class="n vf" transform="translate(567,244)"><circle r="6.5"/><text y="1.2">37</text></g>
<g id="d-t30" class="n vf" transform="translate(585,244)"><circle r="6.5"/><text y="1.2">30</text></g>
<g id="d-xtitle" class="n dv" transform="translate(476,273)"><circle r="6.5"/><text y="1.2">X title</text></g>
<g id="d-ytitle" class="n dv" transform="translate(566,274)"><circle r="6.5"/><text y="1.2">Y Title</text></g>
<g id="d-outlier" class="n vi" transform="translate(525,264)"><circle r="6.5"/><text y="1.2">Outlier</text></g>
<g id="d-clustering" class="n vi" transform="translate(517,277)"><circle r="6.5"/><text y="1.2">Clustering</text></g>
<g id="d-b23" class="n vf" transform="translate(432,304)"><circle r="6.5"/><text y="1.2">23</text></g>
<g id="d-b14" class="n vf" transform="translate(454,304)"><circle r="6.5"/><text y="1.2">14</text></g>
<g id="d-b40" class="n vf" transform="translate(477,304)"><circle r="6.5"/><text y="1.2">40</text></g>
<g id="d-b42" class="n vf" transform="translate(502,304)"><circle r="6.5"/><text y="1.2">42</text></g>
<g id="d-b16" class="n vf" transform="translate(538,303)"><circle r="6.5"/><text y="1.2">16</text></g>
<g id="d-b13" class="n vf" transform="translate(563,303)"><circle r="6.5"/><text y="1.2">13</text></g>
<g id="d-b44" class="n vf" transform="translate(587,303)"><circle r="6.5"/><text y="1.2">44</text></g>
<g id="d-b43" class="n vf" transform="translate(612,303)"><circle r="6.5"/><text y="1.2">43</text></g>
<g id="d-dot0" class="n vs" transform="translate(446,327)"><circle r="6.5"/><text y="1.2">Dot0</text></g>
<g id="d-dot1" class="n vs" transform="translate(491,327)"><circle r="6.5"/><text y="1.2">Dot1</text></g>
<g id="d-dot2" class="n vs" transform="translate(549,325)"><circle r="6.5"/><text y="1.2">Dot2</text></g>
<g id="d-dot3" class="n vs" transform="translate(594,325)"><circle r="6.5"/><text y="1.2">Dot3</text></g>
<g id="d-green1" class="n vf" transform="translate(467,344)"><circle r="6.5"/><text y="1.2">Green</text></g>
<g id="d-item2" class="n dvs" transform="translate(523,332)"><circle r="6.5"/><text y="1.2">Item2</text></g>
<g id="d-green2" class="n vf" transform="translate(577,345)"><circle r="6.5"/><text y="1.2">Green</text></g>
</g>
</svg>
